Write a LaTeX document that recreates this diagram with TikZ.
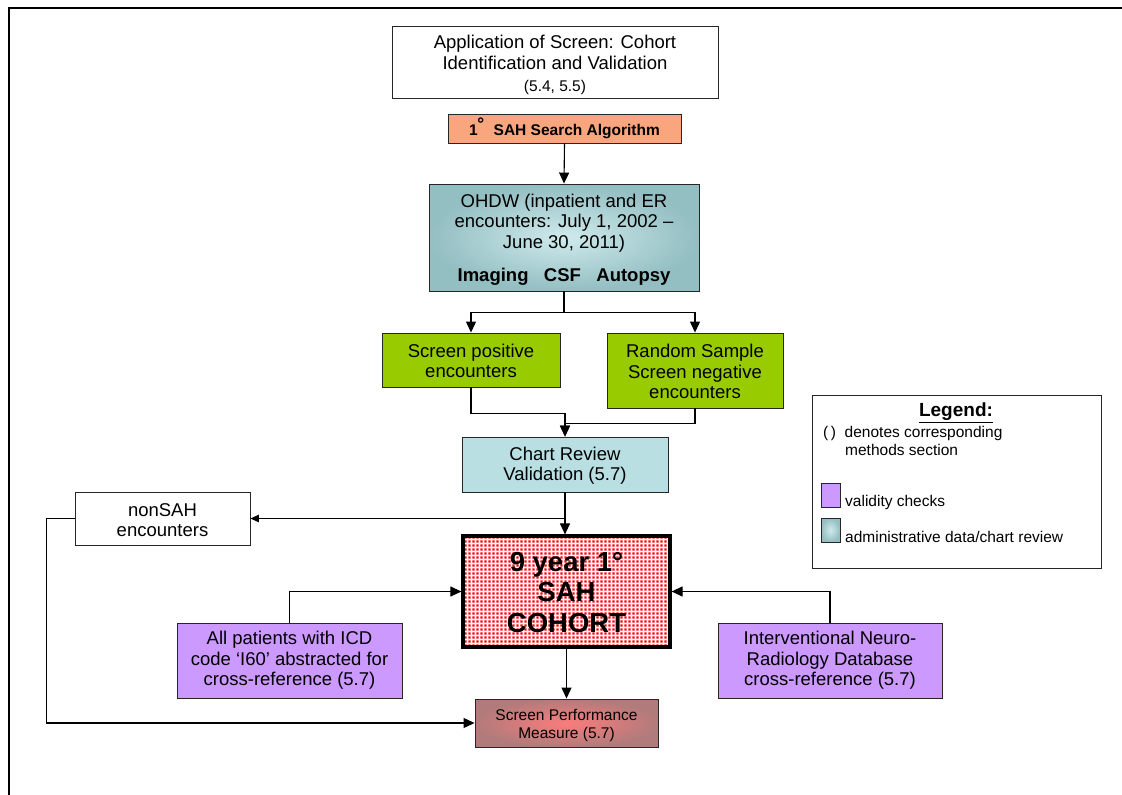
\documentclass[tikz,border=0pt]{standalone}
\usepackage{fontspec}
\setmainfont{Liberation Sans}
\usetikzlibrary{arrows.meta,patterns,calc}
\newcommand{\fsz}[2]{\fontsize{#1}{#2}\selectfont}
\definecolor{salmon}{HTML}{F9A67E}
\definecolor{leaf}{HTML}{99CC00}
\definecolor{lilac}{HTML}{CC99FF}
\definecolor{paleblue}{HTML}{B9DFE3}
\definecolor{tealout}{HTML}{93BEC2}
\definecolor{tealin}{HTML}{CFEAEC}
\definecolor{roseout}{HTML}{B27B7B}
\definecolor{rosein}{HTML}{FA7C7C}
% red dot texture for the cohort box
\pgfdeclarepatterninherentlycolored{reddots}{\pgfpointorigin}{\pgfqpoint{4pt}{4pt}}{\pgfqpoint{4pt}{4pt}}{%
  \pgfsetfillcolor{white}%
  \pgfpathrectangle{\pgfpointorigin}{\pgfqpoint{4pt}{4pt}}\pgfusepath{fill}%
  \pgfsetfillcolor{red}%
  \pgfpathrectangle{\pgfqpoint{0.6pt}{0.6pt}}{\pgfqpoint{2.8pt}{2.8pt}}\pgfusepath{fill}}
\tikzset{
  box/.style={draw=black!85, line width=0.9pt, inner sep=0pt, align=center,
    font=\fsz{18.5}{20.5}},
  arr/.style={line width=1.1pt, -{Triangle[length=11pt,width=10pt]}},
  link/.style={line width=1.1pt},
  legtext/.style={anchor=west, inner sep=0pt, font=\fsz{15.5}{17.5}, align=left},
}
\begin{document}
\begin{tikzpicture}[x=1pt,y=-1pt]
\useasboundingbox (0,0) rectangle (1122,795);

% page frame
\draw[line width=2.6pt] (1122,8) -- (9,8) -- (9,795);

% boxes
\node[box, minimum width=326, minimum height=72, font=\fsz{18.5}{21}] (app) at (555,62)
  {\rule{0pt}{19.5pt}Application of Screen: Cohort\\Identification and Validation\\[1.5pt]{\fsz{15.5}{17}(5.4, 5.5)}};
\node[box, fill=salmon, minimum width=233, minimum height=29, font=\fsz{15.5}{17}\bfseries] (algo) at (564.5,128.5)
  {1\raisebox{0.5pt}{\fsz{22}{22}\bfseries˚}\ \ SAH Search Algorithm};
\node[box, inner color=tealin, outer color=tealout, minimum width=270, minimum height=107] (ohdw) at (564,237.5)
  {\rule{0pt}{17.5pt}OHDW (inpatient and ER\\encounters: July 1, 2002 --\\June 30, 2011)\\[13pt]\textbf{Imaging\ \ \ CSF\ \ \ Autopsy}};
\node[box, fill=leaf, minimum width=178, minimum height=54] (pos) at (471,360)
  {\rule{0pt}{15.5pt}Screen positive\\encounters};
\node[box, fill=leaf, minimum width=176, minimum height=75] (neg) at (695,370.5)
  {\rule{0pt}{15.5pt}Random Sample\\Screen negative\\encounters};
\node[box, fill=paleblue, minimum width=206, minimum height=55] (chart) at (565,464.5)
  {\rule{0pt}{16pt}Chart Review\\Validation (5.7)};
\node[box, minimum width=175, minimum height=53] (nonsah) at (162.5,518.5)
  {\rule{0pt}{16pt}nonSAH\\encounters};
\node[box, line width=3.2pt, draw=black, pattern=reddots,
  minimum width=207, minimum height=111, font=\fsz{27.5}{30.5}\bfseries] (cohort) at (566.5,591.5)
  {\rule{0pt}{21pt}9 year 1°\\SAH\\COHORT};
\node[box, fill=lilac, minimum width=225, minimum height=75] (icd) at (289.5,660.5)
  {All patients with ICD\\code ‘I60’ abstracted for\\cross-reference (5.7)};
\node[box, fill=lilac, minimum width=224, minimum height=75] (inr) at (830,660.5)
  {Interventional Neuro-\\Radiology Database\\cross-reference (5.7)};
\node[box, inner color=rosein, outer color=roseout, minimum width=183, minimum height=48,
  font=\fsz{15.5}{18}] (perf) at (566.5,723)
  {\rule{0pt}{16.3pt}Screen Performance\\Measure (5.7)};

% connectors
\draw[arr] (algo.south) -- (ohdw.north);
\draw[link] (ohdw.south) -- ++(0,21) coordinate (fork);
\draw[arr] (fork) -| (pos.north);
\draw[arr] (fork) -| (neg.north);
\draw[arr] (pos.south) -- ++(0,26) -| (chart.north);
\draw[arr] (neg.south) -- ++(0,15) -| (chart.north);
\draw[arr] (chart.south) -- (chart.south |- cohort.north);
\draw[line width=1.1pt, -{Triangle[length=8.5pt,width=7.5pt]}] (nonsah.east -| chart.south) -- (nonsah.east);
\draw[arr] (nonsah.west) -- ++(-28,0) |- (perf.west);
\draw[arr] (icd.north) |- (cohort.west);
\draw[arr] (inr.north) |- (cohort.east);
\draw[arr] (cohort.south) -- (perf.north);

% legend
\node[draw=black!85, line width=0.9pt, minimum width=289, minimum height=173, inner sep=0pt] (legend) at (956.5,481.5) {};
\node[inner sep=0pt, font=\fsz{19}{21}\bfseries] (legtitle) at (956,413) {\underline{Legend:}};
\node[legtext] (legparen) at (823,433) {(\,)\ \ denotes corresponding};
\node[legtext] (legparen2) at (845,450) {methods section};
\node[draw=black!85, line width=0.9pt, fill=lilac, minimum width=19, minimum height=24, inner sep=0pt] (keyv) at (830.5,495) {};
\node[legtext] (legv) at (845,502) {validity checks};
\node[draw=black!85, line width=0.9pt, inner color=tealin, outer color=tealout, minimum width=19, minimum height=24, inner sep=0pt] (keya) at (830.5,530) {};
\node[legtext] (lega) at (845,537) {administrative data/chart review};
\end{tikzpicture}
\end{document}
